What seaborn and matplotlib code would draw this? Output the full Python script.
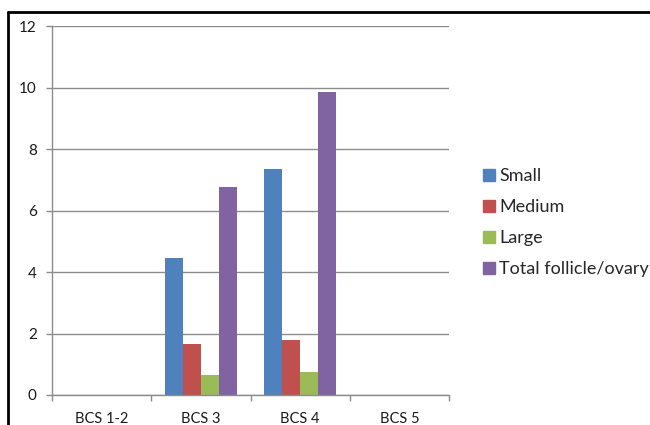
import numpy as np
import pandas as pd
import seaborn as sns
import matplotlib.pyplot as plt
from matplotlib.lines import Line2D
from matplotlib.ticker import FixedLocator

categories = ['BCS 1-2', 'BCS 3', 'BCS 4', 'BCS 5']
series = ['Small', 'Medium', 'Large', 'Total follicle/ovary']
small = [0, 4.47, 7.35, 0]
medium = [0, 1.65, 1.78, 0]
large = [0, 0.65, 0.74, 0]
total = [0, 6.76, 9.85, 0]
colors = ['#4F81BD', '#C0504D', '#9BBB59', '#8064A2']

df = pd.DataFrame({
    'cat': categories * 4,
    'series': np.repeat(series, len(categories)),
    'value': small + medium + large + total,
})

sns.set_style('white')
plt.rcParams['font.family'] = ['Lato', 'DejaVu Sans']

fig = plt.figure(figsize=(6.5, 4.25), dpi=100)
ax = fig.add_axes([0.08, 0.0706, 0.611, 0.868])

sns.barplot(data=df, x='cat', y='value', hue='series', palette=colors,
            width=0.72, gap=0, ax=ax, legend=False, saturation=1,
            linewidth=0, order=categories, hue_order=series)

ax.set_xlim(-0.5, 3.5)
ax.set_ylim(0, 12)
ax.set_yticks(np.arange(0, 13, 2))
ax.yaxis.grid(True, color='#8c8c8c', linewidth=1)
ax.set_axisbelow(True)
ax.set_xlabel('')
ax.set_ylabel('')
for s in ['top', 'right']:
    ax.spines[s].set_visible(False)
for s in ['left', 'bottom']:
    ax.spines[s].set_color('#8c8c8c')
    ax.spines[s].set_linewidth(1)

ax.xaxis.set_minor_locator(FixedLocator([-0.5, 0.5, 1.5, 2.5, 3.5]))
ax.tick_params(axis='x', which='major', length=0, pad=12, labelsize=10.5, colors='#1a1a1a')
ax.tick_params(axis='x', which='minor', length=4, width=1, color='#8c8c8c', direction='out', bottom=True)
ax.tick_params(axis='y', length=4, width=1, color='#8c8c8c', direction='out', left=True,
               pad=7, labelsize=11, labelcolor='#1a1a1a')

handles = [Line2D([0], [0], marker='s', linestyle='', markersize=8,
                  markerfacecolor=c, markeredgecolor=c) for c in colors]
fig.legend(handles, series, loc='center left', bbox_to_anchor=(0.74, 0.476),
           frameon=False, fontsize=13, handletextpad=0.1, labelspacing=0.82,
           handlelength=0.9, borderaxespad=0, borderpad=0)

# frame lines on left and top
fig.add_artist(Line2D([8 / 650, 8 / 650], [0, 1 - 12 / 425], transform=fig.transFigure,
                      color='black', linewidth=2))
fig.add_artist(Line2D([8 / 650, 1], [1 - 12 / 425, 1 - 12 / 425], transform=fig.transFigure,
                      color='black', linewidth=2))

fig.savefig('out.png', dpi=100)
